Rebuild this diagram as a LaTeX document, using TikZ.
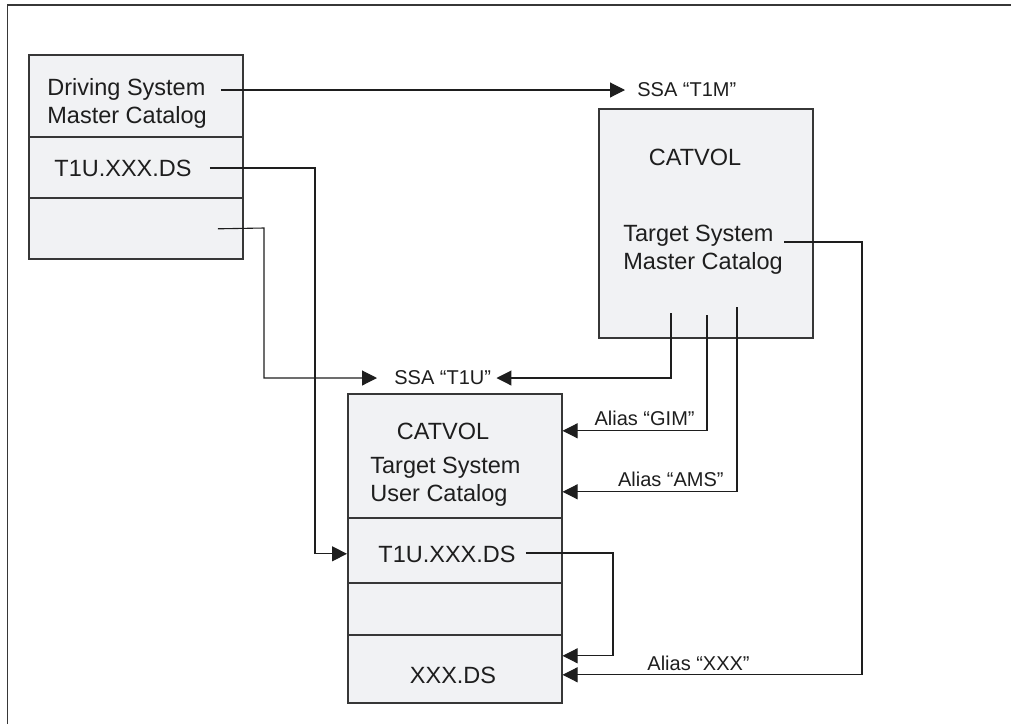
\documentclass[tikz,border=0pt]{standalone}
\usepackage{fontspec}
\setmainfont{Liberation Sans}
\usetikzlibrary{arrows.meta,calc}
\definecolor{boxfill}{RGB}{241,242,244}
\definecolor{edge}{RGB}{55,55,55}
\definecolor{ink}{RGB}{30,30,30}
\begin{document}
\begin{tikzpicture}[x=0.5pt,y=-0.5pt,
  cell/.style={draw=edge, line width=0.8pt, fill=boxfill, inner sep=0pt, anchor=north west, minimum width=107pt},
  big/.style={font=\fontsize{11.75}{14}\selectfont, text=ink, inner sep=0pt},
  small/.style={font=\fontsize{10}{12}\selectfont, text=ink, inner sep=0pt},
  conn/.style={draw=ink, line width=0.55pt},
  arr/.style={conn, -{Triangle[length=7.5pt,width=7.5pt]}}
]
\useasboundingbox (0,0) rectangle (1011,724);
% frame
\draw[draw=edge, line width=0.8pt] (7.5,724) -- (7.5,5) -- (1011,5);

% driving system box
\node[cell, minimum height=41pt]   (a1) at (28,54)  {};
\node[cell, minimum height=30.5pt] (a2) at (28,136) {};
\node[cell, minimum height=30.5pt] (a3) at (28,197) {};
% master box
\node[cell, minimum height=114.5pt] (m) at (598,108) {};
% user catalog box
\node[cell, minimum height=62pt]   (u1) at (347,393) {};
\node[cell, minimum height=32.5pt] (u2) at (347,517) {};
\node[cell, minimum height=26pt]   (u3) at (347,582) {};
\node[cell, minimum height=34pt]   (u4) at (347,634) {};

% texts
\node[big, anchor=base west] (dst1) at (47,95)  {Driving System};
\node[big, anchor=base west] (dst2) at (47,123) {Master Catalog};
\node[big, anchor=base west] (at1u) at (54,176) {T1U.XXX.DS};
\node[small, anchor=west]    (t1m)  at (637,90) {SSA “T1M”};
\node[big, anchor=base]      (mcat) at (695,165) {CATVOL};
\node[big, anchor=base west] (mts1) at (623,241) {Target System};
\node[big, anchor=base west] (mts2) at (623,269) {Master Catalog};
\node[small, anchor=west]    (t1u)  at (394,378) {SSA “T1U”};
\node[big, anchor=base]      (ucat) at (443,439) {CATVOL};
\node[big, anchor=base west] (uts1) at (370,473) {Target System};
\node[big, anchor=base west] (uts2) at (370,501) {User Catalog};
\node[big, anchor=base west] (ut1u) at (378,562) {T1U.XXX.DS};
\node[big, anchor=base]      (uxxx) at (453,683) {XXX.DS};
\node[small, anchor=base east] (lgim) at (695,425) {Alias “GIM”};
\node[small, anchor=base east] (lams) at (724,486) {Alias “AMS”};
\node[small, anchor=base west] (lxxx) at (647,670) {Alias “XXX”};

% bend / start coordinates
\coordinate (b2)  at (315,168);
\coordinate (ba3) at (264,228);
\coordinate (bx)  at (862,242);
\coordinate (bu)  at (613,553);
\coordinate (m1)  at (671,313);
\coordinate (m2)  at (707,315);
\coordinate (m3)  at (737,307);

% connectors
\draw[arr] ([shift={(15,-5)}]dst1.base east) -- ([shift={(-12,0)}]t1m.west);
\draw[arr] ([shift={(18,-8)}]at1u.base east) -- (b2) |- ([shift={(0,3.5)}]u2.west);
\draw[arr] ([shift={(82,0.5)}]a3.center) -- (ba3) |- ([shift={(-17,0)}]t1u.west);
\draw[arr] (m1) |- ([shift={(5,0)}]t1u.east);
\draw[arr] (m2) |- ([shift={(0,-25)}]u1.east);
\draw[arr] (m3) |- ([shift={(0,36)}]u1.east);
\draw[arr] ([shift={(10,1)}]mts1.base east) -- (bx) |- ([shift={(0,6)}]u4.east);
\draw[arr] ([shift={(10,-9)}]ut1u.base east) -- (bu) |- ([shift={(0,-13)}]u4.east);
\end{tikzpicture}
\end{document}
